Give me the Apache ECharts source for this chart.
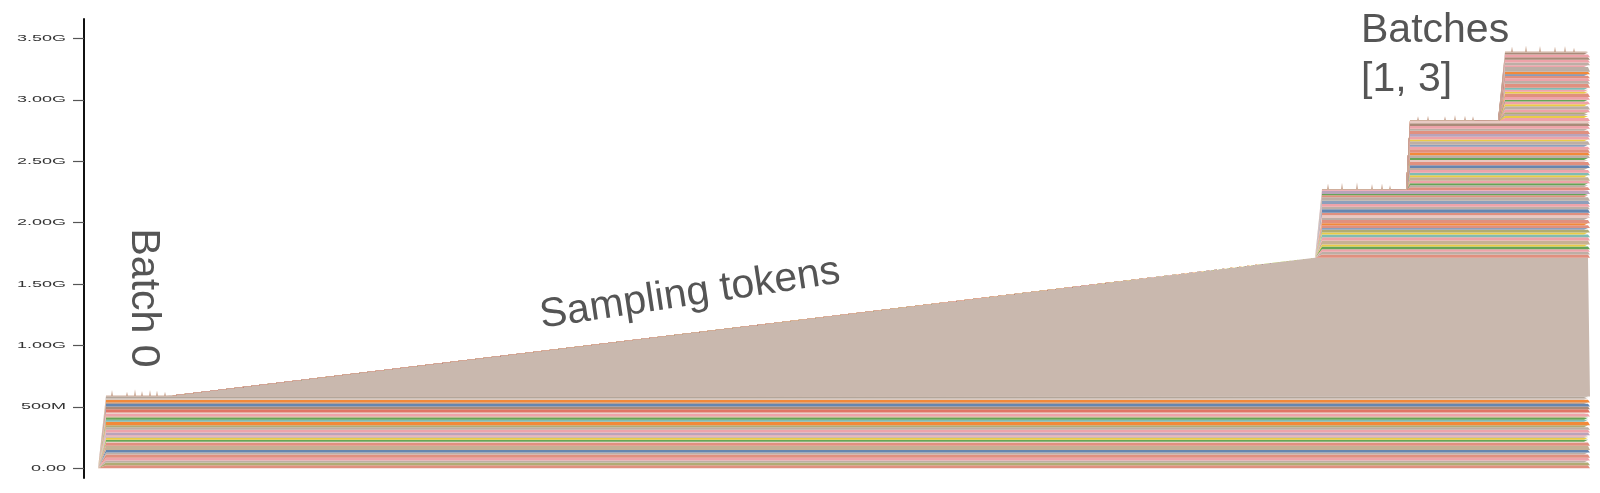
<!DOCTYPE html>
<html><head><meta charset="utf-8">
<script src="https://cdn.jsdelivr.net/npm/echarts@6/dist/echarts.min.js"></script>
<style>html,body{margin:0;padding:0;background:#fff}#c{width:1600px;height:493px}</style>
</head><body><div id="c"></div>
<script>
// ---- data (memory in GB, time in snapshot units) ----
const phaseTimes   = [14, 22, 89, 1231, 1238, 1323, 1326, 1415, 1421, 1500, 1504, 1506];
const samplingGB   = [0, 0, 0.008, 1.129, 1.129, 1.129, 1.129, 1.129, 1.129, 1.129, 1.129, 1.129];
const baseActive   = [0, 1, 1, 1, 1, 1, 1, 1, 1, 1, 1, 1];
const batch1Active = [0, 0, 0, 0, 1, 1, 1, 1, 1, 1, 1, 1];
const batch2Active = [0, 0, 0, 0, 0, 0, 1, 1, 1, 1, 1, 1];
const batch3Active = [0, 0, 0, 0, 0, 0, 0, 0, 1, 1, 1, 1];

// allocation stripes, bottom -> top, MB
const baseStripesMB   = [24,22,16,22,27,16,22,33,27,6,16,16,11,11,22,22,21,16,28,16,16,11,22,11,27,22,22,11,22,16,11];
const baseStripeKeys  = ['sal','olv','gry','pnk','sal','gry','blu','tan','sal','pal','grn','yel','gry','pnk','lav','pnk','gry','olv','org','tea','grn','olv','pnk','pal','red','brn','blu','brn','org','lgr','dbr'];
const batch1StripesMB = [27,22,21,22,16,33,27,22,16,22,16,21,16,28,16,21,22,27,22,22,27,27,16,11,27,6];
const batch1StripeKeys= ['sal','gry','pnk','grn','yel','tan','pnk','tea','yel','olv','bgr','sal','org','sal','gry','pal','sal','blu','gry','pnk','bgr','gry','sal','grn','lav','pnk'];
const batch2StripesMB = [22,16,16,22,27,16,22,22,16,22,27,16,16,22,22,27,22,16,27,16,22,22,27,16,22,22,19];
const batch2StripeKeys= ['sal','gry','grn','pnk','tan','yel','tea','pnk','gry','blu','sal','pal','grn','gry','org','sal','pnk','bgr','gry','yel','pnk','lav','sal','gry','pnk','brn','pal'];
const batch3StripesMB = [24,16,16,16,21,28,16,21,16,22,27,16,16,16,33,22,22,21,11,21,38,16,22,21,22,22,16];
const batch3StripeKeys= ['pnk','yel','gry','olv','pnk','gry','yel','pnk','grn','pnk','sal','yel','pnk','tea','sal','gry','pnk','sal','blu','org','gry','pnk','gry','pnk','brn','pnk','brn'];

// transient top band + spikes per batch: [time, GB]
const band0 = [[14,0],[22,0.008],[88,0.008],[89,0]];
const band1 = [[1231,0],[1238,0.008],[1322,0.008],[1323,0]];
const band2 = [[1323,0],[1326,0.008],[1414,0.008],[1415,0]];
const band3 = [[1415,0],[1421,0.008],[1506,0.008]];
const spikes0 = [[28,0.045],[43,0.03],[51,0.05],[58,0.035],[66,0.045],[73,0.04],[81,0.03]];
const spikes1 = [[1244,0.045],[1258,0.05],[1273,0.055],[1288,0.04],[1298,0.045],[1306,0.03]];
const spikes2 = [[1334,0.03],[1344,0.035],[1361,0.03],[1371,0.04],[1381,0.035],[1389,0.03]];
const spikes3 = [[1428,0.04],[1442,0.05],[1456,0.045],[1471,0.04],[1481,0.045],[1490,0.03]];

const tickValues = [0, 0.5, 1, 1.5, 2, 2.5, 3, 3.5];
const tickLabels = ['0.00','500M','1.00G','1.50G','2.00G','2.50G','3.00G','3.50G'];

const palette = {sal:'#e0907f',pnk:'#eea3a9',gry:'#bdaea5',tan:'#c6b094',olv:'#b0ac74',blu:'#6586b0',bgr:'#8d9fbb',grn:'#65a456',yel:'#eacb47',org:'#f28939',tea:'#80bcb4',lav:'#b9a3ba',brn:'#a98a78',pal:'#e8c9c3',red:'#e07565',dbr:'#9f8e80',lgr:'#cfc3bc'};
const samplingColor = '#c9b8ae';
const bandColor = '#cfae9b';

// ---- build ----
function valueAt(pts, t){ let v = 0; for (const [pt,pv] of pts){ if (pt <= t) v = pv; else break; } return v; }
function withSpikes(band, spikes){
  const pts = band.slice();
  spikes.forEach(([t,h])=>{
    const b = valueAt(band, t);
    pts.push([t-1,b],[t,b+h],[t+1,b]);
  });
  return pts.sort((a,b)=>a[0]-b[0]);
}
const band0Pts = withSpikes(band0, spikes0), band1Pts = withSpikes(band1, spikes1),
      band2Pts = withSpikes(band2, spikes2), band3Pts = withSpikes(band3, spikes3);
const allTimes = Array.from(new Set([].concat(phaseTimes, band0Pts.map(p=>p[0]), band1Pts.map(p=>p[0]), band2Pts.map(p=>p[0]), band3Pts.map(p=>p[0])))).sort((a,b)=>a-b);

function series(name, pts, color){
  return {name, type:'line', stack:'mem', symbol:'none', showSymbol:false, silent:true,
    lineStyle:{width:0, opacity:0}, areaStyle:{color, opacity:1},
    data: allTimes.map(t=>[t, valueAt(pts, t)])};
}
function phasePts(active, gb){ return phaseTimes.map((t,i)=>[t, active[i]*gb]); }
const S = [];
baseStripesMB.forEach((mb,i)=>S.push(series('base'+i, phasePts(baseActive, mb/1000), palette[baseStripeKeys[i]])));
S.push(series('batch0 transient', band0Pts, bandColor));
S.push(series('sampling', phaseTimes.map((t,i)=>[t, samplingGB[i]]), samplingColor));
batch1StripesMB.forEach((mb,i)=>S.push(series('b1_'+i, phasePts(batch1Active, mb/1000), palette[batch1StripeKeys[i]])));
S.push(series('batch1 transient', band1Pts, bandColor));
batch2StripesMB.forEach((mb,i)=>S.push(series('b2_'+i, phasePts(batch2Active, mb/1000), palette[batch2StripeKeys[i]])));
S.push(series('batch2 transient', band2Pts, bandColor));
batch3StripesMB.forEach((mb,i)=>S.push(series('b3_'+i, phasePts(batch3Active, mb/1000), palette[batch3StripeKeys[i]])));
S.push(series('batch3 transient', band3Pts, bandColor));

const chart = echarts.init(document.getElementById('c'), null, {renderer:'canvas'});
chart.setOption({
  animation:false,
  grid:{left:84, right:10, top:19, bottom:15},
  xAxis:{type:'time', min:0, max:1506, show:false},
  yAxis:{type:'value', min:-0.08, max:3.66,
    axisLine:{show:true, lineStyle:{color:'#111', width:2}},
    axisTick:{show:true, length:11, customValues:tickValues, lineStyle:{color:'#555', width:1.2}},
    axisLabel:{show:false}, splitLine:{show:false}},
  series:S
});
const annoFont = '41px "Liberation Sans", Arial, sans-serif';
const G = tickValues.map((v,i)=>({type:'text', silent:true, x:66, y:chart.convertToPixel({yAxisIndex:0}, v), scaleX:2,
  style:{text:tickLabels[i], align:'right', verticalAlign:'middle', font:'9px "Liberation Sans", Arial, sans-serif', fill:'#333'}}));
G.push({type:'text', silent:true, x:143, y:298, rotation:-Math.PI/2, style:{text:'Batch 0', align:'center', verticalAlign:'middle', font:annoFont, fill:'#555'}});
G.push({type:'text', silent:true, x:690, y:294, rotation:0.15, style:{text:'Sampling tokens', align:'center', verticalAlign:'middle', font:annoFont, fill:'#555'}});
G.push({type:'text', silent:true, x:1361, y:31, style:{text:'Batches', align:'left', verticalAlign:'middle', font:annoFont, fill:'#555'}});
G.push({type:'text', silent:true, x:1361, y:80, style:{text:'[1, 3]', align:'left', verticalAlign:'middle', font:annoFont, fill:'#555'}});
chart.setOption({graphic:G});
</script></body></html>
